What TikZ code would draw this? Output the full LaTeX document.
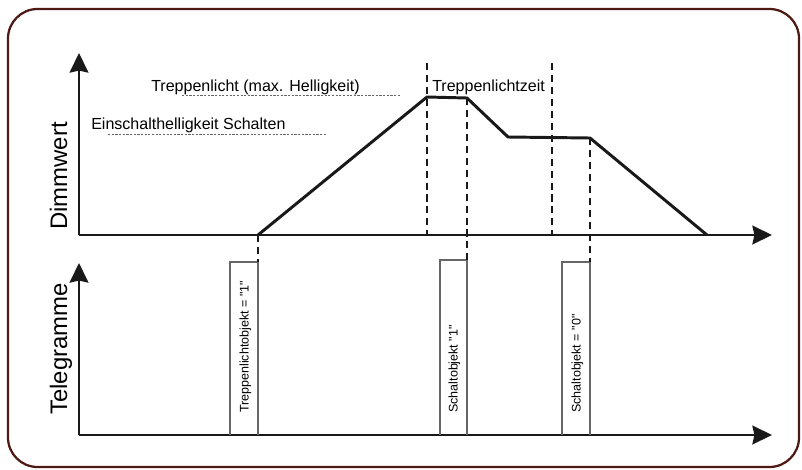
\documentclass[tikz,border=0pt]{standalone}
\usepackage{fontspec}
\setmainfont{Liberation Sans}
\usepackage{tikz}
\usetikzlibrary{arrows.meta, calc}
\colorlet{ink}{black!90}
\colorlet{rule}{black!60}
\definecolor{frameC}{RGB}{78,26,20}
\newcommand{\qq}[1]{\textquotedbl#1\textquotedbl}
\tikzset{
  frame/.style    ={draw=frameC, line width=1.6pt, rounded corners=21pt},
  axis/.style     ={-{Stealth[length=14pt, width=13.5pt, inset=1.5pt]},
                    ink, line width=1.1pt},
  curve/.style    ={ink, line width=2.1pt, line join=miter},
  marker/.style   ={ink, line width=1pt, dash pattern=on 5pt off 3.5pt},
  level/.style    ={rule, line width=0.6pt, dash pattern=on 1.6pt off 1pt},
  pulse/.style    ={rule, line width=0.8pt},
  lbl/.style      ={font=\fontsize{11.4}{13}\selectfont, inner sep=0pt},
  axlbl/.style    ={font=\fontsize{17}{20}\selectfont, inner sep=0pt,
                    rotate=90, anchor=base west},
  tlbl/.style     ={font=\fontsize{8.9}{10}\selectfont, inner sep=0pt,
                    rotate=90, anchor=base west},
}
\begin{document}
\begin{tikzpicture}[x=0.025cm, y=-0.025cm]
\useasboundingbox (0,0) rectangle (802,469);
\draw[frame] (8,9) rectangle (799,467);

% axes
\coordinate (O1) at (79,235);
\coordinate (Y1) at (79,53);
\coordinate (X1) at (772,235);
\coordinate (O2) at (79,435);
\coordinate (Y2) at (79,263);
\coordinate (X2) at (772,435);
\draw[axis] (O1) -- (Y1);
\draw[axis] (O1) -- (X1);
\draw[axis] (O2) -- (Y2);
\draw[axis] (O2) -- (X2);
\node[axlbl] (dimm) at (67,230) {Dimmwert};
\node[axlbl] (tele) at (67,415) {Telegramme};

% dimming curve
\coordinate (c0) at (258,235);
\coordinate (c1) at (427,97);
\coordinate (c2) at (467,98);
\coordinate (c3) at (508,137);
\coordinate (c4) at (590,138);
\coordinate (c5) at (707,235);
\draw[curve] (c0) -- (c1) -- (c2) -- (c3) -- (c4) -- (c5);

% level labels
\node[lbl, anchor=base west] (maxL) at (151,91) {Treppenlicht (max. Helligkeit)};
\node[lbl, anchor=base west] (onL) at (91,129) {Einschalthelligkeit Schalten};
\draw[level] (182,95) -- (400,95);
\draw[level] (108,134) -- (327,134);

% telegram pulses
\coordinate (p1) at (258,262);
\coordinate (p2) at (467,260);
\coordinate (p3) at (590,262);
\draw[pulse] (230,435) |- (p1) -- (258,435);
\draw[pulse] (440,435) |- (p2) -- (467,435);
\draw[pulse] (562,435) |- (p3) -- (590,435);
\node[tlbl] (t1) at (248.5,413) {Treppenlichtobjekt = \qq{1}};
\node[tlbl] (t2) at (457.5,413) {Schaltobjekt \qq{1}};
\node[tlbl] (t3) at (580.5,413) {Schaltobjekt = \qq{0}};

% time markers
\coordinate (m1) at (427,63);
\coordinate (m2) at (552,63);
\draw[marker] (c0) -- (p1);
\draw[marker] (m1) -- (427,235);
\draw[marker] (c2) -- (p2);
\draw[marker] (m2) -- (552,235);
\draw[marker] (c4) -- (p3);
\node[lbl, anchor=base west] (zeit) at (432,91) {Treppenlichtzeit};

\end{tikzpicture}
\end{document}
